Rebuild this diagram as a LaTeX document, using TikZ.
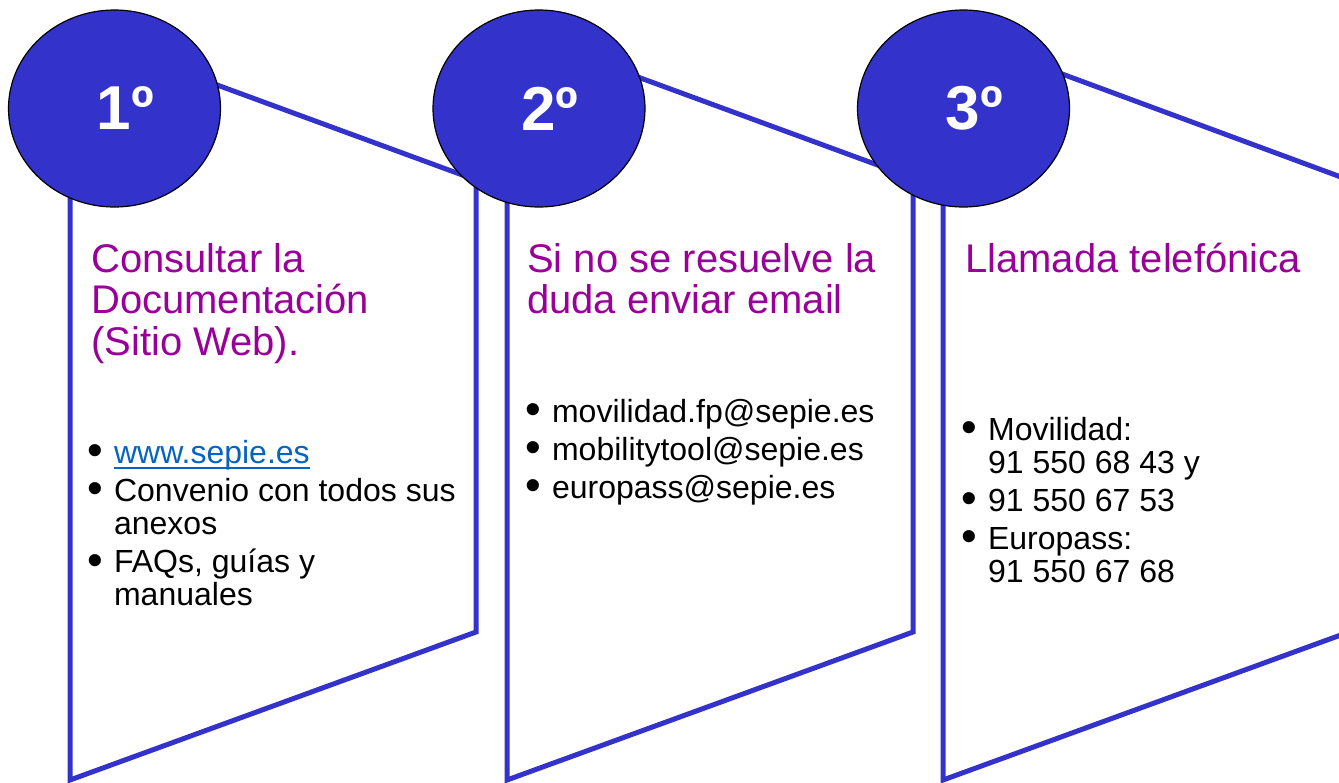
\documentclass[tikz,border=0pt]{standalone}
\usepackage{fontspec}
\setmainfont{Liberation Sans}
\usepackage{graphicx}
\usepackage{tikz}
\usetikzlibrary{shapes.geometric}
\definecolor{stepblue}{HTML}{3333CC}
\definecolor{titlepurple}{HTML}{990099}
\definecolor{linkblue}{HTML}{0563C1}
\newcommand{\bigdot}{\raisebox{-2.5pt}{\scalebox{1.4}{\textbullet}}}
\newcommand{\weblink}[1]{\textcolor{linkblue}{\setbox0\hbox{#1}\rlap{\rule[-6pt]{\wd0}{2pt}}\box0}}

\begin{document}
\begin{tikzpicture}[x=1pt, y=-1pt,
        panel/.style={draw=stepblue, line width=5pt},
        badge/.style={ellipse, draw=black, line width=1.2pt, fill=stepblue, text=white, minimum width=212pt, minimum height=197pt, inner sep=0pt, font=\fontsize{62}{62}\selectfont\bfseries},
        heading/.style={anchor=base west, inner sep=0pt, text=titlepurple, font=\fontsize{40}{41.5}\selectfont},
        points/.style={anchor=base west, inner sep=0pt, font=\fontsize{32}{33}\selectfont}]
        \useasboundingbox (0,0) rectangle (1339,782);
        \clip (0,0) rectangle (1339,782);

        % --- PANELES ---
        \draw[panel] (70,31) -- (476,180) -- (476,632) -- (70,780) -- cycle;
        \draw[panel] (507,29) -- (913,178) -- (913,632) -- (507,780) -- cycle;
        \draw[panel] (943,30) -- (1349,180) -- (1349,632) -- (943,780) -- cycle;

        % --- PASOS ---
        \node (step1) at (114.5,108.5) [badge] {\hspace*{22pt}1º};
        \node (step2) at (539,108.5) [badge] {\hspace*{22pt}2º};
        \node (step3) at (963.5,108.5) [badge] {\hspace*{22pt}3º};

        % --- 1º documentacion ---
        \node (title1) at (91,272) [heading] {\begin{tabular}[t]{@{}l@{}}Consultar la\\Documentación\\(Sitio Web).\end{tabular}};
        \node (list1) at (87.2,463) [points] {\begin{tabular}[t]{@{}l@{\hspace{11pt}}l@{}}
            \bigdot & \weblink{www.sepie.es}\\[5pt]
            \bigdot & Convenio con todos sus\\
                    & anexos\\[5pt]
            \bigdot & FAQs, guías y\\
                    & manuales
        \end{tabular}};

        % --- 2º email ---
        \node (title2) at (527,272) [heading] {\begin{tabular}[t]{@{}l@{}}Si no se resuelve la\\duda enviar email\end{tabular}};
        \node (list2) at (525.2,422) [points] {\begin{tabular}[t]{@{}l@{\hspace{11pt}}l@{}}
            \bigdot & movilidad.fp@sepie.es\\[5pt]
            \bigdot & mobilitytool@sepie.es\\[5pt]
            \bigdot & europass@sepie.es
        \end{tabular}};

        % --- 3º telefono ---
        \node (title3) at (965,272) [heading] {Llamada telefónica};
        \node (list3) at (961.2,440) [points] {\begin{tabular}[t]{@{}l@{\hspace{11pt}}l@{}}
            \bigdot & Movilidad:\\
                    & 91 550 68 43 y\\[5pt]
            \bigdot & 91 550 67 53\\[5pt]
            \bigdot & Europass:\\
                    & 91 550 67 68
        \end{tabular}};
    \end{tikzpicture}
\end{document}
